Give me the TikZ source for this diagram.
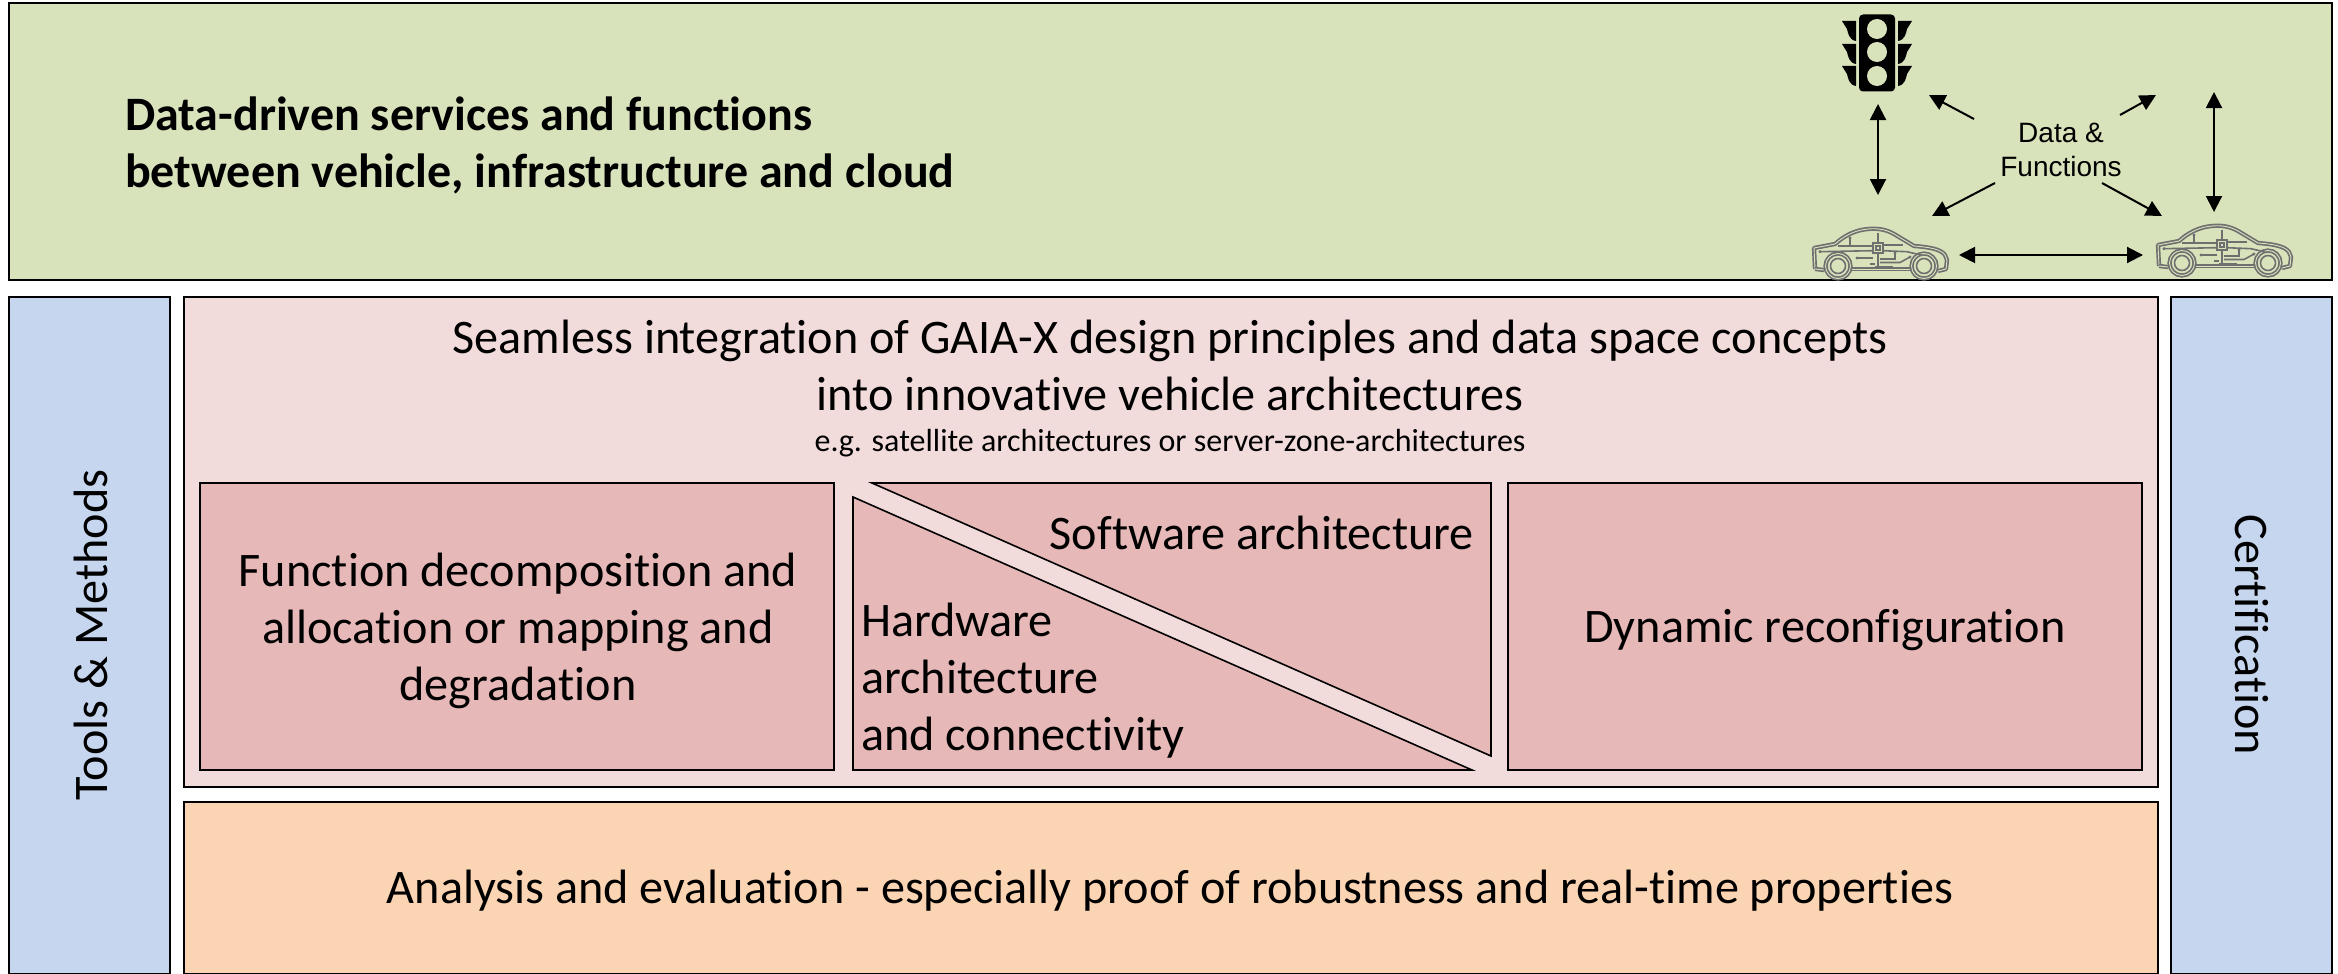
\documentclass[tikz,border=0pt]{standalone}
\usepackage{fontspec}
\setmainfont[Ligatures=NoCommon]{Carlito}
\newfontfamily\arialfont{Liberation Sans}
\usetikzlibrary{arrows.meta}
\definecolor{bgreen}{HTML}{D8E3BC}
\definecolor{bblue}{HTML}{C6D6EE}
\definecolor{bpink}{HTML}{F2DCDB}
\definecolor{bdeep}{HTML}{E6B8B7}
\definecolor{borange}{HTML}{FBD4B4}
\definecolor{cargray}{HTML}{6F6F6F}
\newcommand{\fs}[2]{\fontsize{#1}{#2}\selectfont}
\tikzset{
 x=1pt,y=-1pt,
 panel/.style={draw=black,line width=1.6pt},
 bigtxt/.style={font=\fs{48.2}{57},align=center,inner sep=0pt,text=black},
 link/.style={line width=2pt,{Triangle[length=16pt,width=16pt]}-{Triangle[length=16pt,width=16pt]}},
 oneway/.style={line width=2pt,-{Triangle[length=16pt,width=16pt]}},
 carline/.style={draw=cargray,line width=1.7pt,double=bgreen,double distance=0.9pt},
 cartrace/.style={draw=cargray,line width=1.6pt},
 car/.pic={
  \draw[carline,line join=round] (2,41) -- (1,20) -- (22,16) .. controls (32,7) and (43,2) .. (55,1)
    .. controls (66,0) and (74,2) .. (81,6) -- (101,18) .. controls (115,19) and (128,21) .. (132,27)
    -- (134,32) -- (133,41) -- (125,43);
  \draw[carline] (2,41) -- (11,42);
  \draw[carline] (39,41) -- (97,41);
  \draw[carline] (25,38) circle (12.5);
  \draw[carline] (111,38) circle (12.5);
  \draw[cartrace] (25,38) circle (7.5);
  \draw[cartrace] (111,38) circle (7.5);
  \draw[cartrace] (65,14) -- (65,5);
  \draw[cartrace] (65,25) -- (65,40);
  \draw[cartrace,line width=2.4pt] (59,18) -- (25,18);
  \draw[cartrace] (37,17) -- (37,10);
  \draw[cartrace] (59,22.7) -- (7,23.7);
  \draw[cartrace,line width=2.4pt] (70,17) -- (90,17);
  \draw[cartrace] (70,22.7) -- (94,23.7) -- (108,27);
  \draw[cartrace] (44,30) -- (60,30);
  \draw[cartrace] (57,36) -- (62,36);
  \draw[cartrace] (67,31) -- (82,31) -- (82,25);
  \draw[cartrace] (67,34.5) -- (87,34.5) -- (97,29);
  \draw[cartrace] (62,38.5) -- (80,38.5);
  \fill[cargray] (37,10) circle (1.7) (7,23.7) circle (1.7) (44,30) circle (1.7) (82,25) circle (1.7) (97,29) circle (1.7);
  \draw[cartrace,fill=bgreen] (60,15) rectangle (70,25);
  \draw[cartrace] (63,18) rectangle (67,22);
 },
 visorl/.pic={\fill[black] (0,0) -- (14,0) -- (14,20) .. controls (7,19) and (6,12) .. (5,8) -- cycle;},
 visorr/.pic={\fill[black] (0,0) -- (-14,0) -- (-14,20) .. controls (-7,19) and (-6,12) .. (-5,8) -- cycle;},
}
\begin{document}
\begin{tikzpicture}
\useasboundingbox (0,0) rectangle (2338,974);
\fill[white] (0,0) rectangle (2338,974);
% panels
\draw[panel,fill=bgreen] (9,3) rectangle (2332,280);
\draw[panel,fill=bblue] (9,297) rectangle (170,974);
\draw[panel,fill=bblue] (2171,297) rectangle (2332,974);
\draw[panel,fill=bpink] (184,297) rectangle (2158,787);
\draw[panel,fill=borange] (184,802) rectangle (2158,974);
\draw[panel,fill=bdeep] (200,483) rectangle (834,770);
\draw[panel,fill=bdeep] (1508,483) rectangle (2142,770);
\draw[panel,fill=bdeep] (853,497) -- (1472,770) -- (853,770) -- cycle;
\draw[panel,fill=bdeep] (872,483) -- (1491,483) -- (1491,756) -- cycle;
% texts
\node[font=\bfseries\fs{48}{57},align=left,anchor=west,inner sep=0pt] (title) at (125,145) {Data-driven services and functions\\between vehicle, infrastructure and cloud};
\node[bigtxt] (seam) at (1170,365) {Seamless integration of GAIA-X design principles and data space concepts\\into innovative vehicle architectures};
\node[font=\fs{32}{34},inner sep=0pt] (eg) at (1170,443) {e.g. satellite architectures or server-zone-architectures};
\node[bigtxt] (func) at (518,631) {Function decomposition and\\allocation or mapping and\\degradation};
\node[bigtxt] (dyn) at (1825,630) {Dynamic reconfiguration};
\node[bigtxt,anchor=east] (soft) at (1474,533) {Software architecture};
\node[bigtxt,align=left,anchor=west] (hard) at (861,681) {Hardware\\architecture\\and connectivity};
\node[bigtxt] (ana) at (1170,891) {Analysis and evaluation - especially proof of robustness and real-time properties};
\node[bigtxt,rotate=90] (tools) at (91,635) {Tools \& Methods};
\node[bigtxt,rotate=-90] (cert) at (2252,635) {Certification};
% icons
\node[inner sep=0pt,minimum width=36pt,minimum height=77pt,fill=black,rounded corners=4pt] (light) at (1877,53) {};
\foreach \cy in {29,52,76} \fill[bgreen] (1877,\cy) circle (10);
\foreach \vy in {21,44,66} {
  \pic at (1842,\vy) {visorl};
  \pic at (1912,\vy) {visorr};
}
\coordinate (car1o) at (1813,228); \pic at (car1o) {car};
\coordinate (car2o) at (2157,225); \pic at (car2o) {car};
\node[font=\arialfont\fs{28}{34},align=center,inner sep=0pt] (data) at (2061,150) {Data \&\\Functions};
% connectors
\coordinate (a1) at (1878,104); \coordinate (a2) at (1878,195);
\coordinate (b1) at (2214,92);  \coordinate (b2) at (2214,212);
\coordinate (c1) at (1959,255); \coordinate (c2) at (2143,255);
\coordinate (d1) at (1974,119); \coordinate (d2) at (1929,95);
\coordinate (e1) at (2120,115); \coordinate (e2) at (2156,95);
\coordinate (f1) at (1995,183); \coordinate (f2) at (1932,216);
\coordinate (g1) at (2102,183); \coordinate (g2) at (2162,216);
\draw[link] (a1) -- (a2);
\draw[link] (b1) -- (b2);
\draw[link] (c1) -- (c2);
\draw[oneway] (d1) -- (d2);
\draw[oneway] (e1) -- (e2);
\draw[oneway] (f1) -- (f2);
\draw[oneway] (g1) -- (g2);
\end{tikzpicture}
\end{document}
